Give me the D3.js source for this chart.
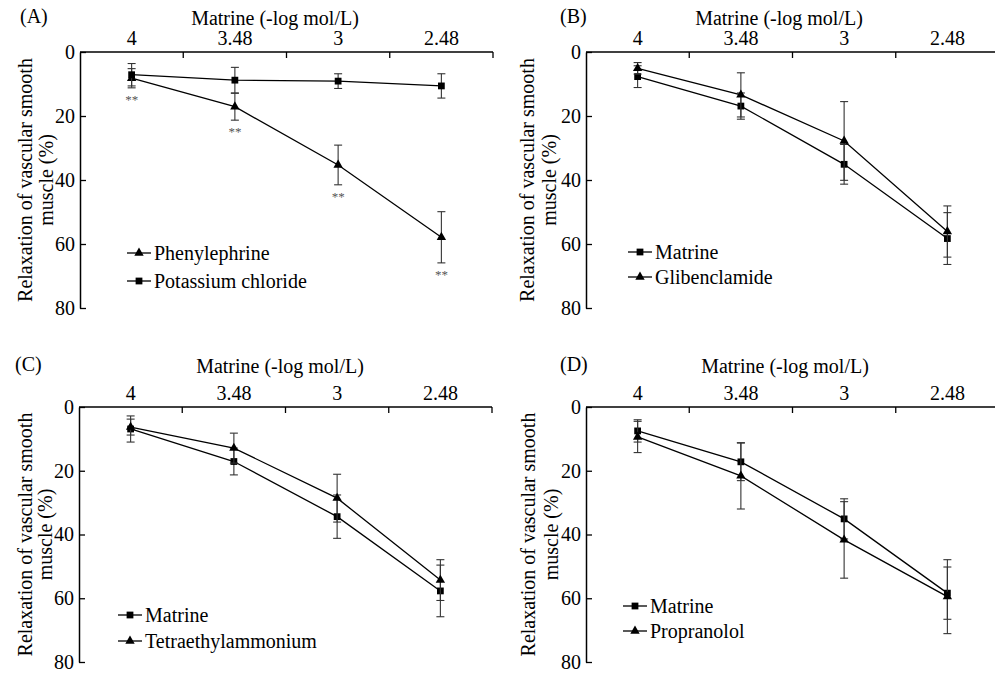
<!DOCTYPE html>
<html>
<head>
<meta charset="utf-8">
<script src="https://cdn.jsdelivr.net/npm/d3@7"></script>
<style>
  body { margin: 0; background: #fff; }
  text { font-family: "Liberation Serif", "Times New Roman", serif; }
</style>
</head>
<body>
<div id="chart-area"></div>
<script>
/*
*    matrine relaxation panels
*/

var doses = ["4", "3.48", "3", "2.48"];
var yTicks = [0, 20, 40, 60, 80];

// (A)
var phenylephrine = [8.2, 17.1, 35.3, 57.9];
var phenylephrineErr = [3.0, 4.2, 6.2, 8.0];
var potassiumChloride = [7.1, 8.8, 9.1, 10.6];
var potassiumChlorideErr = [3.5, 4.0, 2.3, 3.8];
var phenylephrineSig = ["**", "**", "**", "**"];

// (B)
var matrineB = [7.7, 16.9, 35.1, 58.3];
var matrineBErr = [3.4, 4.1, 6.2, 8.1];
var glibenclamide = [5.1, 13.4, 27.8, 56.1];
var glibenclamideErr = [1.8, 6.9, 12.3, 8.0];

// (C)
var matrineC = [6.9, 17.1, 34.4, 57.7];
var matrineCErr = [4.1, 4.2, 6.8, 8.1];
var tetraethylammonium = [6.3, 12.9, 28.6, 54.3];
var tetraethylammoniumErr = [2.5, 4.7, 7.5, 6.4];

// (D)
var matrineD = [7.5, 17.2, 35.1, 58.4];
var matrineDErr = [3.5, 5.9, 6.3, 8.2];
var propranolol = [9.4, 21.6, 41.7, 59.5];
var propranololErr = [4.9, 10.4, 12.0, 11.6];

var svg = d3.select("#chart-area").append("svg").attr("width", 995).attr("height", 675);

var panels = [
	{ tag: "(A)", left: 80, top: 52, h: 256, tagX: 20, titleX: 275, titleY: 25, yl: [32, 53],
	  leg: { x: 127, y: [253, 281] },
	  series: [
		{ name: "Phenylephrine", shape: "tri", values: phenylephrine, err: phenylephrineErr, sig: phenylephrineSig },
		{ name: "Potassium chloride", shape: "sq", values: potassiumChloride, err: potassiumChlorideErr }
	  ] },
	{ tag: "(B)", left: 586, top: 52, h: 256, tagX: 560, titleX: 779, titleY: 25, yl: [534, 556],
	  leg: { x: 628, y: [252, 277] },
	  series: [
		{ name: "Matrine", shape: "sq", values: matrineB, err: matrineBErr },
		{ name: "Glibenclamide", shape: "tri", values: glibenclamide, err: glibenclamideErr }
	  ] },
	{ tag: "(C)", left: 79, top: 407, h: 255, tagX: 15, titleX: 280, titleY: 373, yl: [32, 52],
	  leg: { x: 118, y: [615, 641] },
	  series: [
		{ name: "Matrine", shape: "sq", values: matrineC, err: matrineCErr },
		{ name: "Tetraethylammonium", shape: "tri", values: tetraethylammonium, err: tetraethylammoniumErr }
	  ] },
	{ tag: "(D)", left: 586, top: 407, h: 255, tagX: 560, titleX: 785, titleY: 373, yl: [535, 558],
	  leg: { x: 623, y: [606, 631] },
	  series: [
		{ name: "Matrine", shape: "sq", values: matrineD, err: matrineDErr },
		{ name: "Propranolol", shape: "tri", values: propranolol, err: propranololErr }
	  ] }
];

var bandW = 413;
var sqSym = d3.symbol().type(d3.symbolSquare).size(46);
var triSym = d3.symbol().type(d3.symbolTriangle).size(38);

panels.forEach((p) => {
	var x = d3.scaleBand().domain(doses).range([p.left, p.left + bandW]).padding(0);
	var y = d3.scaleLinear().domain([0, 80]).range([p.top, p.top + p.h]);
	var cx = (i) => { return x(doses[i]) + x.bandwidth() / 2; };

	// panel tag and title
	svg.append("text").attr("x", p.tagX).attr("y", p.titleY - 2).attr("font-size", "20px").text(p.tag);
	svg.append("text").attr("x", p.titleX).attr("y", p.titleY).attr("font-size", "20px")
		.attr("text-anchor", "middle").text("Matrine (-log mol/L)");

	// top x axis: labels at band centres, ticks at band edges
	var xAxisGroup = svg.append("g").attr("transform", "translate(0," + p.top + ")")
		.call(d3.axisTop(x).tickSize(0).tickPadding(7));
	xAxisGroup.select(".domain").remove();
	xAxisGroup.selectAll("text").attr("font-size", "20px").attr("font-family", "Liberation Serif").attr("fill", "#000");
	svg.append("line").attr("x1", p.left).attr("x2", p.left + bandW).attr("y1", p.top).attr("y2", p.top)
		.attr("stroke", "#000").attr("stroke-width", 1.5);
	svg.selectAll(null).data(doses).enter().append("line")
		.attr("x1", (d) => { return x(d) + x.bandwidth(); })
		.attr("x2", (d) => { return x(d) + x.bandwidth(); })
		.attr("y1", p.top).attr("y2", p.top + 6)
		.attr("stroke", "#000").attr("stroke-width", 1.3);

	// left y axis, ticks pointing inward
	var yAxisGroup = svg.append("g").attr("transform", "translate(" + p.left + ",0)")
		.call(d3.axisLeft(y).tickValues(yTicks).tickSize(-6).tickSizeOuter(0).tickPadding(5));
	yAxisGroup.select(".domain").attr("stroke-width", 1.5);
	yAxisGroup.selectAll(".tick line").attr("stroke-width", 1.3);
	yAxisGroup.selectAll("text").attr("font-size", "20px").attr("font-family", "Liberation Serif").attr("fill", "#000");

	// y axis label, two lines
	var midY = p.top + p.h / 2;
	svg.append("text").attr("transform", "translate(" + p.yl[0] + "," + midY + ") rotate(-90)")
		.attr("text-anchor", "middle").attr("font-size", "20px").text("Relaxation of vascular smooth");
	svg.append("text").attr("transform", "translate(" + p.yl[1] + "," + midY + ") rotate(-90)")
		.attr("text-anchor", "middle").attr("font-size", "20px").text("muscle (%)");

	var line = d3.line().x((d, i) => { return cx(i); }).y((d) => { return y(d); });

	p.series.forEach((s) => {
		// error bars
		var eb = svg.append("g").attr("stroke", "#333").attr("stroke-width", 1.1);
		s.values.forEach((v, i) => {
			var lo = y(v - s.err[i]), hi = y(v + s.err[i]);
			eb.append("line").attr("x1", cx(i)).attr("x2", cx(i)).attr("y1", lo).attr("y2", hi);
			eb.append("line").attr("x1", cx(i) - 4).attr("x2", cx(i) + 4).attr("y1", lo).attr("y2", lo);
			eb.append("line").attr("x1", cx(i) - 4).attr("x2", cx(i) + 4).attr("y1", hi).attr("y2", hi);
		});

		svg.append("path").datum(s.values).attr("d", line)
			.attr("fill", "none").attr("stroke", "#000").attr("stroke-width", 1.3);

		svg.selectAll(null).data(s.values).enter().append("path")
			.attr("d", s.shape === "sq" ? sqSym : triSym)
			.attr("transform", (d, i) => { return "translate(" + cx(i) + "," + y(d) + ")"; })
			.attr("fill", "#000");

		if (s.sig) {
			svg.selectAll(null).data(s.values).enter().append("text")
				.attr("x", (d, i) => { return cx(i); })
				.attr("y", (d, i) => { return y(d + s.err[i]) + 16; })
				.attr("text-anchor", "middle").attr("font-size", "13px").attr("fill", "#555")
				.text((d, i) => { return s.sig[i]; });
		}
	});

	// legend
	p.series.forEach((s, k) => {
		var row = svg.append("g").attr("transform", "translate(" + p.leg.x + "," + p.leg.y[k] + ")");
		row.append("line").attr("x1", 0).attr("x2", 24).attr("y1", 0).attr("y2", 0)
			.attr("stroke", "#000").attr("stroke-width", 1.3);
		row.append("path").attr("d", s.shape === "sq" ? sqSym : triSym)
			.attr("transform", "translate(12,0)").attr("fill", "#000");
		row.append("text").attr("x", 27).attr("y", 0).attr("dy", "0.35em")
			.attr("font-size", "20px").text(s.name);
	});
});
</script>
</body>
</html>
